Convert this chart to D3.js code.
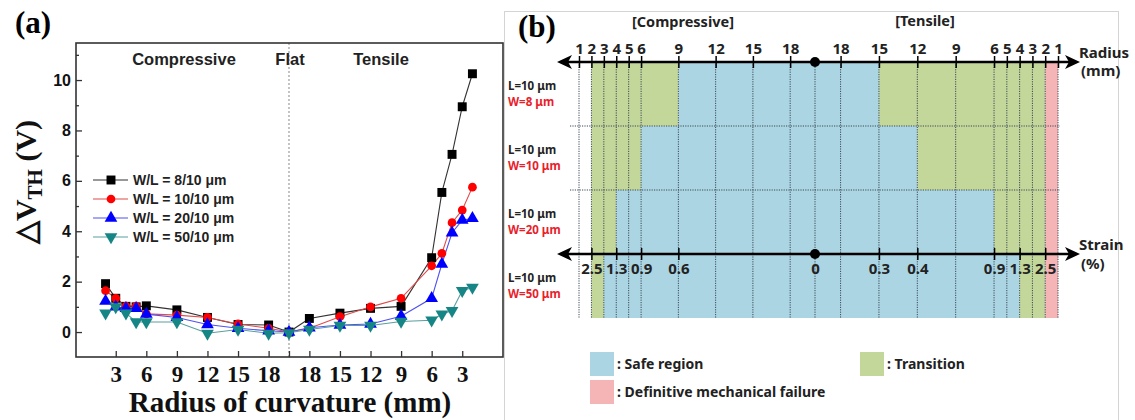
<!DOCTYPE html>
<html><head><meta charset="utf-8">
<script src="https://cdn.jsdelivr.net/npm/d3@7"></script>
<style>body{margin:0;background:#fff}svg{display:block}</style>
</head><body>
<svg id="c" width="1135" height="420"></svg>
<script>
// ---------------- DATA ----------------
// Panel (a): threshold-voltage shift vs bending radius
const radiusComp = [2, 3, 4, 5, 6, 9, 12, 15, 18];      // compressive side (mm)
const radiusTens = [18, 15, 12, 9, 6, 5, 4, 3, 2];      // tensile side (mm)
const seriesNames = ["W/L = 8/10 \u03bcm", "W/L = 10/10 \u03bcm", "W/L = 20/10 \u03bcm", "W/L = 50/10 \u03bcm"];
const dV8_comp  = [1.92, 1.34, 1.02, 1.00, 1.04, 0.88, 0.58, 0.30, 0.28];
const dV8_flat  = 0;
const dV8_tens  = [0.54, 0.75, 0.94, 1.02, 2.95, 5.54, 7.05, 8.94, 10.25];
const dV10_comp = [1.64, 1.34, 1.03, 1.03, 0.72, 0.67, 0.58, 0.32, 0.15];
const dV10_flat = 0;
const dV10_tens = [0.15, 0.61, 1.00, 1.34, 2.63, 3.12, 4.34, 4.84, 5.75];
const dV20_comp = [1.23, 1.00, 0.94, 0.94, 0.71, 0.58, 0.30, 0.15, 0.05];
const dV20_flat = 0;
const dV20_tens = [0.17, 0.28, 0.32, 0.63, 1.34, 2.70, 3.94, 4.44, 4.51];
const dV50_comp = [0.75, 1.00, 0.75, 0.40, 0.40, 0.40, -0.05, 0.10, -0.05];
const dV50_flat = -0.03;
const dV50_tens = [0.10, 0.26, 0.26, 0.42, 0.47, 0.71, 0.85, 1.64, 1.77];
const xTickRadii = [3, 6, 9, 12, 15, 18];
const yTicksMajor = [0, 2, 4, 6, 8, 10];
const yTicksMinor = [1, 3, 5, 7, 9, 11];

// Panel (b): region map
const devL = ["L=10 \u03bcm", "L=10 \u03bcm", "L=10 \u03bcm", "L=10 \u03bcm"];
const devW = ["W=8 \u03bcm", "W=10 \u03bcm", "W=20 \u03bcm", "W=50 \u03bcm"];
const compSafeLimit = [9, 6, 4, 3];     // compressive radius where safe region begins
const tensSafeLimit = [15, 12, 6, 4];   // tensile radius where safe region ends
const transitionEnd = 2;                // transition until 2 mm
const failureEnd = 1;                   // failure at 1 mm (tensile)
const radiusTicksB = [1, 2, 3, 4, 5, 6, 9, 12, 15, 18];
const strainRadiusComp = [2, 4, 6, 9];
const strainLabelsComp = ["2.5", "1.3", "0.9", "0.6"];
const strainRadiusTens = [15, 12, 6, 4, 2];
const strainLabelsTens = ["0.3", "0.4", "0.9", "1.3", "2.5"];
const legendItems = [": Safe region", ": Definitive mechanical failure", ": Transition"];

// ---------------- ENCODING ----------------
const FLAT = 20;   // flat state sits where radius would be 20 mm
const posC = r => r - FLAT;
const posT = r => FLAT - r;

const svg = d3.select("#c");
const serifB = "'Liberation Serif','Times New Roman',serif";
const sansB = "'Liberation Sans',Arial,sans-serif";
const korB = "'Noto Sans','Open Sans',sans-serif";

// ================= PANEL (a) =================
const A = {l: 76, r: 503, t: 43, b: 357};
const x = d3.scaleLinear().domain([-20.9, 21]).range([A.l, A.r]);
const y = d3.scaleLinear().domain([-0.99, 11.47]).range([A.b, A.t]);

svg.append("text").attr("x", 15).attr("y", 33).attr("font-family", serifB)
  .attr("font-weight", "bold").attr("font-size", 31).text("(a)");

const ga = svg.append("g");
// flat dotted line
ga.append("line").attr("x1", x(0)).attr("x2", x(0)).attr("y1", A.t).attr("y2", A.b)
  .attr("stroke", "#888").attr("stroke-width", 1).attr("stroke-dasharray", "2,2");

// x axis
const xTickVals = [...xTickRadii.map(posC), 0, ...xTickRadii.map(posT)];
const xAxis = d3.axisBottom(x).tickValues(xTickVals).tickSize(-6).tickSizeOuter(0).tickPadding(9)
  .tickFormat(p => p === 0 ? "" : String(FLAT - Math.abs(p)));
const gx = ga.append("g").attr("transform", `translate(0,${A.b})`).call(xAxis);
gx.selectAll("text").attr("font-family", serifB).attr("font-weight", "bold").attr("font-size", 23).attr("fill", "#111");
gx.selectAll("line").attr("stroke", "#333").attr("stroke-width", 1.3);
gx.select(".domain").remove();

// y axis
const yAxis = d3.axisLeft(y).tickValues(yTicksMajor).tickSize(-6).tickSizeOuter(0).tickPadding(5);
const gy = ga.append("g").attr("transform", `translate(${A.l},0)`).call(yAxis);
gy.selectAll("text").attr("font-family", sansB).attr("font-weight", "bold").attr("font-size", 16).attr("fill", "#111");
gy.selectAll("line").attr("stroke", "#333").attr("stroke-width", 1.3);
gy.select(".domain").remove();
const gym = ga.append("g").attr("transform", `translate(${A.l},0)`)
  .call(d3.axisLeft(y).tickValues(yTicksMinor).tickSize(-3).tickFormat(""));
gym.selectAll("line").attr("stroke", "#333").attr("stroke-width", 1.3);
gym.select(".domain").remove();

// frame
ga.append("rect").attr("x", A.l).attr("y", A.t).attr("width", A.r - A.l).attr("height", A.b - A.t)
  .attr("fill", "none").attr("stroke", "#333").attr("stroke-width", 1.6);

// region titles
[["Compressive", 184], ["Flat", 290], ["Tensile", 381]].forEach(([t, cx]) => {
  ga.append("text").attr("x", cx).attr("y", 65).attr("text-anchor", "middle")
    .attr("font-family", sansB).attr("font-weight", "bold").attr("font-size", 16.5).attr("fill", "#222").text(t);
});

// series
const series = [
  {name: seriesNames[0], comp: dV8_comp, flat: dV8_flat, tens: dV8_tens, col: "#000", line: "#333", sym: d3.symbolSquare, size: 80, rot: 0},
  {name: seriesNames[1], comp: dV10_comp, flat: dV10_flat, tens: dV10_tens, col: "#ff0000", line: "#e04a4a", sym: d3.symbolCircle, size: 60, rot: 0},
  {name: seriesNames[2], comp: dV20_comp, flat: dV20_flat, tens: dV20_tens, col: "#0000ff", line: "#5050f0", sym: d3.symbolTriangle, size: 70, rot: 0},
  {name: seriesNames[3], comp: dV50_comp, flat: dV50_flat, tens: dV50_tens, col: "#168585", line: "#5a9e9e", sym: d3.symbolTriangle, size: 70, rot: 180}
];
const lineGen = d3.line().x(d => x(d[0])).y(d => y(d[1]));
series.forEach(s => {
  s.pts = [
    ...radiusComp.map((r, i) => [posC(r), s.comp[i]]),
    [0, s.flat],
    ...radiusTens.map((r, i) => [posT(r), s.tens[i]])
  ];
});
series.forEach(s => {
  ga.append("path").attr("d", lineGen(s.pts)).attr("fill", "none").attr("stroke", s.line).attr("stroke-width", 1.1);
});
series.forEach(s => {
  ga.append("g").selectAll("path").data(s.pts).join("path")
    .attr("d", d3.symbol(s.sym, s.size))
    .attr("transform", d => `translate(${x(d[0])},${y(d[1])}) rotate(${s.rot})`)
    .attr("fill", s.col);
});

// legend
series.forEach((s, i) => {
  const ly = 180 + i * 19;
  ga.append("line").attr("x1", 93).attr("x2", 128).attr("y1", ly).attr("y2", ly).attr("stroke", s.line).attr("stroke-width", 1.1);
  ga.append("path").attr("d", d3.symbol(s.sym, s.size)).attr("transform", `translate(111,${ly}) rotate(${s.rot})`).attr("fill", s.col);
  ga.append("text").attr("x", 133).attr("y", ly + 5).attr("font-family", sansB).attr("font-weight", "bold")
    .attr("font-size", 14).attr("fill", "#222").text(s.name);
});

// axis titles
svg.append("text").attr("x", 290).attr("y", 412).attr("text-anchor", "middle")
  .attr("font-family", serifB).attr("font-weight", "bold").attr("font-size", 29).attr("fill", "#111")
  .text("Radius of curvature (mm)");
const yt = svg.append("text").attr("transform", "translate(36,182) rotate(-90)").attr("text-anchor", "middle")
  .attr("font-family", serifB).attr("font-weight", "bold").attr("font-size", 30).attr("fill", "#111");
yt.append("tspan").text("\u25B3V");
yt.append("tspan").attr("font-size", 21).attr("dy", 6).text("TH");
yt.append("tspan").attr("dy", -6).text(" (V)");

// ================= PANEL (b) =================
const gb = svg.append("g");
gb.append("rect").attr("x", 504.5).attr("y", 11.5).attr("width", 614).attr("height", 420)
  .attr("fill", "none").attr("stroke", "#d4d4d4").attr("stroke-width", 1);
gb.append("text").attr("x", 518).attr("y", 37).attr("font-family", serifB)
  .attr("font-weight", "bold").attr("font-size", 31).text("(b)");

const bx = d3.scaleLinear().domain([-19, 0, 19]).range([579, 815, 1058]);
const rows = d3.scaleBand().domain(d3.range(devW.length)).range([62, 318]);
const COL = {safe: "#acd5e4", trans: "#c4d79b", fail: "#f5b5b7"};

// coloured regions
devW.forEach((w, i) => {
  const segs = [
    [posC(transitionEnd), posC(compSafeLimit[i]), COL.trans],
    [posC(compSafeLimit[i]), posT(tensSafeLimit[i]), COL.safe],
    [posT(tensSafeLimit[i]), posT(transitionEnd), COL.trans],
    [posT(transitionEnd), posT(failureEnd), COL.fail]
  ];
  gb.append("g").selectAll("rect").data(segs).join("rect")
    .attr("x", d => bx(d[0])).attr("width", d => bx(d[1]) - bx(d[0]))
    .attr("y", rows(i)).attr("height", rows.bandwidth()).attr("fill", d => d[2]);
});

// grid verticals
const gridPos = [...radiusTicksB.map(posC), 0, ...radiusTicksB.map(posT)];
gb.append("g").selectAll("line").data(gridPos).join("line")
  .attr("x1", d => bx(d)).attr("x2", d => bx(d)).attr("y1", 62).attr("y2", 318)
  .attr("stroke", "#3a4a55").attr("stroke-width", 1).attr("stroke-dasharray", "1.2,1.2");
// row separators
gb.append("g").selectAll("line").data([1, 2]).join("line")
  .attr("x1", 570).attr("x2", 1060).attr("y1", d => rows(d)).attr("y2", d => rows(d))
  .attr("stroke", "#3a4a55").attr("stroke-width", 1).attr("stroke-dasharray", "1.2,1.2");

// arrow axes
function arrowAxis(yy) {
  gb.append("line").attr("x1", 562).attr("x2", 1074).attr("y1", yy).attr("y2", yy)
    .attr("stroke", "#000").attr("stroke-width", 2.6);
  gb.append("path").attr("d", `M557,${yy} L572,${yy - 7} L568,${yy} L572,${yy + 7} Z`).attr("fill", "#000");
  gb.append("path").attr("d", `M1080,${yy} L1065,${yy - 7} L1069,${yy} L1065,${yy + 7} Z`).attr("fill", "#000");
  gb.append("circle").attr("cx", bx(0)).attr("cy", yy).attr("r", 5).attr("fill", "#000");
}
arrowAxis(62);
arrowAxis(rows(3));

// radius axis ticks
const radTickVals = [...radiusTicksB.map(posC), ...radiusTicksB.map(posT)];
const gr = gb.append("g").attr("transform", "translate(0,62)")
  .call(d3.axisTop(bx).tickValues(radTickVals).tickSize(6).tickPadding(2)
    .tickFormat(p => String(FLAT - Math.abs(p))));
gr.select(".domain").remove();
gr.selectAll("line").attr("stroke", "#000").attr("stroke-width", 1.5).attr("y2", -6).attr("y1", 6);
gr.selectAll("text").attr("font-family", korB).attr("font-weight", "bold").attr("font-size", 15).attr("fill", "#222");

// strain axis ticks
const strainPos = [...strainRadiusComp.map(posC), ...strainRadiusTens.map(posT)];
const strainLab = [...strainLabelsComp, ...strainLabelsTens];
const gs = gb.append("g").attr("transform", `translate(0,${rows(3)})`)
  .call(d3.axisBottom(bx).tickValues([...strainPos, 0]).tickSize(6).tickPadding(3)
    .tickFormat(p => p === 0 ? "0" : strainLab[strainPos.indexOf(p)]));
gs.select(".domain").remove();
gs.selectAll("line").attr("stroke", "#000").attr("stroke-width", 1.5).attr("y1", -6).attr("y2", 6);
gs.selectAll("line").filter(p => p === 0).remove();
gs.selectAll("text").attr("font-family", korB).attr("font-weight", "bold").attr("font-size", 15).attr("fill", "#222");

// section headers and axis names
const tb = (t, xx, yy, fs, anchor, col) => gb.append("text").attr("x", xx).attr("y", yy)
  .attr("text-anchor", anchor || "start").attr("font-family", korB).attr("font-weight", "bold")
  .attr("font-size", fs).attr("fill", col || "#222").text(t);
tb("[Compressive]", 683, 27, 14.5, "middle");
tb("[Tensile]", 925, 26, 14.5, "middle");
tb("Radius", 1079, 58, 15);
tb("(mm)", 1081, 76, 15);
tb("Strain", 1079, 250, 15);
tb("(%)", 1081, 269, 15);

// row labels
devW.forEach((w, i) => {
  const cy = rows(i) + rows.bandwidth() / 2;
  tb(devL[i], 508, cy - 4, 11.5, "start", "#222");
  tb(w, 508, cy + 12, 11.5, "start", "#e8202a");
});

// legend
const legCols = [COL.safe, COL.fail, COL.trans];
const legPos = [[590, 352], [590, 380], [860, 352]];
legendItems.forEach((t, i) => {
  gb.append("rect").attr("x", legPos[i][0]).attr("y", legPos[i][1]).attr("width", 24).attr("height", 24).attr("fill", legCols[i]);
  tb(t, legPos[i][0] + 27, legPos[i][1] + 17, 14, "start", "#222");
});
</script>
</body></html>
